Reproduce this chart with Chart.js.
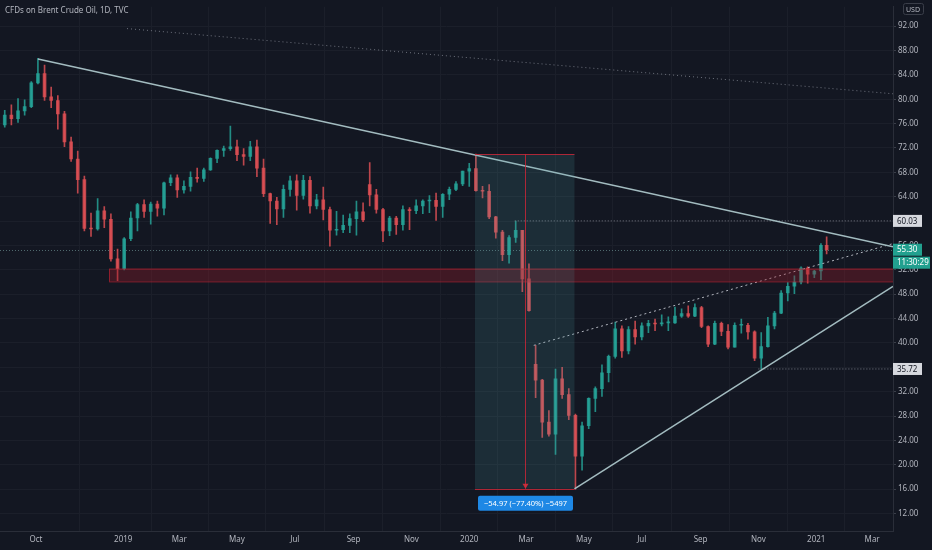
<!DOCTYPE html>
<html>
<head>
<meta charset="utf-8">
<script src="https://cdn.jsdelivr.net/npm/chart.js@4.4.1/dist/chart.umd.min.js"></script>
<style>
html, body { margin: 0; padding: 0; background: #131722; }
#wrap { width: 932px; height: 550px; }
</style>
</head>
<body>
<div id="wrap"><canvas id="brentChart" width="932" height="550"></canvas></div>
<script>
const weeks = [
  '2018-08-27','2018-09-03','2018-09-10','2018-09-17','2018-09-24','2018-10-01','2018-10-08','2018-10-15','2018-10-22','2018-10-29',
  '2018-11-05','2018-11-12','2018-11-19','2018-11-26','2018-12-03','2018-12-10','2018-12-17','2018-12-24','2018-12-31','2019-01-07',
  '2019-01-14','2019-01-21','2019-01-28','2019-02-04','2019-02-11','2019-02-18','2019-02-25','2019-03-04','2019-03-11','2019-03-18',
  '2019-03-25','2019-04-01','2019-04-08','2019-04-15','2019-04-22','2019-04-29','2019-05-06','2019-05-13','2019-05-20','2019-05-27',
  '2019-06-03','2019-06-10','2019-06-17','2019-06-24','2019-07-01','2019-07-08','2019-07-15','2019-07-22','2019-07-29','2019-08-05',
  '2019-08-12','2019-08-19','2019-08-26','2019-09-02','2019-09-09','2019-09-16','2019-09-23','2019-09-30','2019-10-07','2019-10-14',
  '2019-10-21','2019-10-28','2019-11-04','2019-11-11','2019-11-18','2019-11-25','2019-12-02','2019-12-09','2019-12-16','2019-12-23',
  '2019-12-30','2020-01-06','2020-01-13','2020-01-20','2020-01-27','2020-02-03','2020-02-10','2020-02-17','2020-02-24','2020-03-02',
  '2020-03-09','2020-03-16','2020-03-23','2020-03-30','2020-04-06','2020-04-13','2020-04-20','2020-04-27','2020-05-04','2020-05-11',
  '2020-05-18','2020-05-25','2020-06-01','2020-06-08','2020-06-15','2020-06-22','2020-06-29','2020-07-06','2020-07-13','2020-07-20',
  '2020-07-27','2020-08-03','2020-08-10','2020-08-17','2020-08-24','2020-08-31','2020-09-07','2020-09-14','2020-09-21','2020-09-28',
  '2020-10-05','2020-10-12','2020-10-19','2020-10-26','2020-11-02','2020-11-09','2020-11-16','2020-11-23','2020-11-30','2020-12-07',
  '2020-12-14','2020-12-21','2020-12-28','2021-01-04','2021-01-11'
];
const opens = [
  75.8,77.4,76.8,78.1,78.8,82.7,84.2,80.4,79.8,77.6, 73.0,70.2,66.8,58.8,58.7,61.7,60.3,53.8,52.2,57.1,
  60.5,62.7,61.6,62.8,62.1,66.3,67.1,65.1,65.7,67.2, 67.0,68.4,70.3,71.6,71.9,72.2,70.9,70.6,72.2,68.7,
  64.5,63.3,62.0,65.2,66.6,64.2,66.7,62.5,63.5,61.9, 58.5,58.6,59.3,60.4,61.5,66.0,64.3,61.9,58.4,60.5,
  59.4,61.9,61.7,62.5,63.3,63.4,62.4,64.4,65.2,66.1, 68.2,68.6,65.0,64.9,60.7,58.2,54.5,57.3,58.5,50.5,
  36.5,33.9,27.0,25.0,34.1,31.5,28.1,21.4,26.4,30.9, 32.5,35.1,37.8,42.3,38.7,42.2,41.0,42.8,43.2,43.1,
  43.3,43.3,44.4,44.8,44.4,45.8,42.7,39.8,43.2,41.9, 39.3,42.9,42.9,41.8,37.5,39.4,42.8,44.9,48.2,49.3,
  50.0,52.3,51.3,51.8,56.0
];
const highs = [
  78.2,79.1,80.1,79.9,82.9,86.7,85.6,82.0,80.6,78.0, 73.8,71.5,67.4,61.3,63.7,62.4,61.2,55.4,57.3,61.5,
  62.9,63.5,63.1,63.3,66.4,67.6,67.6,66.6,68.1,68.7, 68.7,70.4,71.7,72.3,75.6,73.3,71.9,73.1,73.3,70.2,
  64.6,63.9,65.9,67.4,67.6,67.5,67.3,64.4,65.6,62.3, 61.6,61.0,61.2,63.3,63.0,69.6,65.2,62.1,60.8,60.8,
  62.5,62.2,63.5,63.5,64.2,64.6,64.5,65.6,66.5,68.2, 69.5,71.0,65.7,66.0,60.8,58.5,57.6,60.0,58.5,53.0,
  39.6,34.0,28.9,35.7,36.0,32.5,28.3,27.0,31.0,32.8, 36.4,38.0,43.4,42.8,42.7,43.6,43.3,43.7,43.9,44.6,
  44.3,45.9,45.6,46.1,46.4,46.0,42.8,43.6,43.4,43.0, 43.3,43.9,43.2,42.0,41.7,44.2,45.2,48.6,49.9,51.0,
  52.5,52.5,51.9,56.3,57.4
];
const lows = [
  75.4,75.8,76.2,77.4,78.6,82.5,79.8,78.6,75.1,72.2, 69.8,64.6,58.4,57.5,58.5,58.9,53.4,50.2,52.0,56.8,
  58.4,60.6,59.5,60.8,61.0,65.8,63.9,64.6,64.9,66.4, 66.5,68.3,69.6,70.6,71.6,69.9,69.2,69.9,67.3,64.0,
  59.6,59.4,60.6,64.1,61.8,63.6,61.3,62.0,60.2,55.9, 57.7,58.1,58.1,57.7,59.9,62.5,61.3,56.6,57.6,57.8,
  58.5,58.6,61.2,61.2,61.4,60.1,60.6,63.5,65.0,65.8, 65.7,64.9,63.8,60.4,57.2,53.5,53.1,56.5,48.4,45.2,
  31.0,24.5,24.7,21.7,30.9,27.4,16.0,19.1,25.9,28.7, 31.2,33.6,37.5,37.6,38.2,39.8,40.5,41.7,42.0,42.8,
  42.0,43.2,44.2,44.2,44.3,42.5,39.4,39.7,41.2,39.0, 39.3,41.6,40.6,37.1,35.7,39.3,42.3,44.8,46.9,48.1,
  49.7,49.8,50.7,50.4,54.6
];
const closes = [
  77.4,76.8,78.1,78.8,82.7,84.2,80.4,79.8,77.6,73.0, 70.2,66.8,58.8,58.7,61.7,60.3,53.8,52.2,57.1,60.5,
  62.7,61.6,62.8,62.1,66.3,67.1,65.1,65.7,67.2,67.0, 68.4,70.3,71.6,71.9,72.2,70.9,70.6,72.2,68.7,64.5,
  63.3,62.0,65.2,66.6,64.2,66.7,62.5,63.5,61.9,58.5, 58.6,59.3,60.4,61.5,60.2,64.3,61.9,58.4,60.5,59.4,
  61.9,61.7,62.5,63.3,63.4,62.4,64.4,65.2,66.1,68.2, 68.6,65.0,64.9,60.7,58.2,54.5,57.3,58.5,50.5,45.3,
  33.9,27.0,25.0,34.1,31.5,28.1,21.4,26.4,30.9,32.5, 35.1,37.8,42.3,38.7,42.2,41.0,42.8,43.2,43.1,43.3,
  43.3,44.4,44.8,44.4,45.8,42.7,39.8,43.2,41.9,39.3, 42.9,42.9,41.8,37.5,39.4,42.8,44.9,48.2,49.3,50.0,
  52.3,51.3,51.8,56.0,55.3
];

// axis ticks
const monthTicks = ['2018-10-01','2019-01-01','2019-03-01','2019-05-01','2019-07-01','2019-09-01','2019-11-01',
  '2020-01-01','2020-03-01','2020-05-01','2020-07-01','2020-09-01','2020-11-01','2021-01-01','2021-03-01'];
const monthLabels = ['Oct','2019','Mar','May','Jul','Sep','Nov','2020','Mar','May','Jul','Sep','Nov','2021','Mar'];
const priceTicks = [12,16,20,24,28,32,36,40,44,48,52,56,60,64,68,72,76,80,84,88,92];
const viewFrom = '2018-08-24', viewTo = '2021-03-23';
const priceMin = 9.12, priceMax = 95.18;

// drawings on the chart (date, price)
const resistance = [['2018-10-03', 86.6], ['2021-03-23', 55.8]];
const support = [['2020-04-21', 16.05], ['2021-03-23', 49.3]];
const channelTop = [['2020-03-09', 39.6], ['2021-03-23', 56.3]];
const longTrend = [['2019-01-05', 91.6], ['2021-03-23', 80.9]];
const levels = [['2020-02-18', 60.03], ['2020-11-01', 35.72]];
const zoneFrom = '2018-12-17', zoneLow = 50.1, zoneHigh = 52.2;
const rangeFrom = '2020-01-07', rangeTo = '2020-04-21', rangeHigh = 71.02, rangeLow = 16.05;
const rangeText = '\u221254.97 (\u221277.40%) \u22125497';
const countdown = '11:30:29';
const title = 'CFDs on Brent Crude Oil, 1D, TVC';

const DAY0 = Date.UTC(2019, 0, 1);
function toDay(s) {
  const [y, m, d] = s.split('-').map(Number);
  return (Date.UTC(y, m - 1, d) - DAY0) / 86400000;
}

const UP = 'rgba(38,166,154,0.82)', DOWN = 'rgba(226,80,86,0.82)';
const last = weeks.length - 1;
const centers = weeks.map((w, i) => toDay(w) + (i === last ? 1 : 2));
const candleColors = closes.map((c, i) => c >= opens[i] ? UP : DOWN);
const lastClose = closes[last];

const seg = (pts) => pts.map(p => ({ x: toDay(p[0]), y: p[1] }));
const lineSet = (pts, color, dash, width) => ({
  type: 'line', data: seg(pts), borderColor: color, borderWidth: width || 1,
  borderDash: dash || [], pointRadius: 0, fill: false, order: 0
});

Chart.defaults.font.family = "'Noto Sans', sans-serif";
Chart.defaults.color = '#b2b5be';

const drawings = {
  id: 'drawings',
  beforeDatasetsDraw(chart) {
    const { ctx, chartArea: a, scales: { y } } = chart;
    ctx.save();
    // last price line
    const py = Math.round(y.getPixelForValue(lastClose)) + 0.5;
    ctx.strokeStyle = 'rgba(120,160,160,0.6)';
    ctx.setLineDash([1, 2]);
    ctx.lineWidth = 1;
    ctx.beginPath(); ctx.moveTo(a.left, py); ctx.lineTo(a.right, py); ctx.stroke();
    ctx.restore();
  },
  afterDatasetsDraw(chart) {
    const { ctx, chartArea: a, scales: { x, y } } = chart;
    ctx.save();
    ctx.beginPath(); ctx.rect(a.left, a.top, a.width, a.height); ctx.clip();

    // support/resistance zone
    const zx = x.getPixelForValue(toDay(zoneFrom));
    const zt = y.getPixelForValue(zoneHigh), zb = y.getPixelForValue(zoneLow);
    ctx.fillStyle = 'rgba(150,25,40,0.35)';
    ctx.fillRect(zx, zt, a.right - zx, zb - zt);
    ctx.strokeStyle = 'rgba(190,35,50,0.65)';
    ctx.lineWidth = 1;
    ctx.strokeRect(zx + 0.5, zt + 0.5, a.right - zx, zb - zt);

    // price range measurement
    const bx0 = x.getPixelForValue(toDay(rangeFrom)), bx1 = x.getPixelForValue(toDay(rangeTo));
    const bt = y.getPixelForValue(rangeHigh), bb = y.getPixelForValue(rangeLow);
    ctx.fillStyle = 'rgba(80,160,165,0.16)';
    ctx.fillRect(bx0, bt, bx1 - bx0, bb - bt);
    ctx.strokeStyle = 'rgba(200,40,55,0.85)';
    ctx.beginPath();
    ctx.moveTo(bx0, Math.round(bt) + 0.5); ctx.lineTo(bx1, Math.round(bt) + 0.5);
    ctx.moveTo(bx0, Math.round(bb) + 0.5); ctx.lineTo(bx1, Math.round(bb) + 0.5);
    const mx = Math.round((bx0 + bx1) / 2) + 0.5;
    ctx.moveTo(mx, bt); ctx.lineTo(mx, bb);
    ctx.stroke();
    ctx.fillStyle = 'rgba(210,45,60,0.95)';
    ctx.beginPath();
    ctx.moveTo(mx - 3, bb - 5); ctx.lineTo(mx + 3, bb - 5); ctx.lineTo(mx, bb); ctx.closePath();
    ctx.fill();
    ctx.restore();

    // range label
    ctx.save();
    ctx.font = "7.5px 'Noto Sans', sans-serif";
    const tw = ctx.measureText(rangeText).width;
    const lw = tw + 12, lh = 15, lx = mx - lw / 2, ly = bb + 7;
    ctx.fillStyle = '#1e88e5';
    ctx.beginPath(); ctx.roundRect(lx, ly, lw, lh, 2); ctx.fill();
    ctx.fillStyle = '#ffffff';
    ctx.textBaseline = 'middle'; ctx.textAlign = 'center';
    ctx.fillText(rangeText, mx, ly + lh / 2 + 0.5);
    ctx.restore();
  },
  afterDraw(chart) {
    const { ctx, chartArea: a, scales: { y } } = chart;
    ctx.save();
    ctx.textBaseline = 'middle';

    // title
    ctx.font = "8px 'Noto Sans', sans-serif";
    ctx.fillStyle = '#b2b5be';
    ctx.fillText(title, 5, 11);

    // currency tag
    ctx.strokeStyle = '#3a3e49';
    ctx.beginPath(); ctx.roundRect(a.right + 10.5, 3.5, 20, 11, 2); ctx.stroke();
    ctx.font = "7px 'Noto Sans', sans-serif";
    ctx.fillStyle = '#b2b5be';
    ctx.fillText('USD', a.right + 13, 9.5);

    const tag = (price, text, bg, fg, w, dy) => {
      const py = y.getPixelForValue(price) + (dy || 0);
      ctx.fillStyle = bg;
      ctx.fillRect(a.right, py - 6, w, 12);
      ctx.fillStyle = fg;
      ctx.font = "8px 'Noto Sans', sans-serif";
      ctx.fillText(text, a.right + 4, py + 0.5);
    };
    levels.forEach(l => tag(l[1], l[1].toFixed(2), '#d6d8de', '#131722', 29));
    tag(lastClose, lastClose.toFixed(2), '#22a08f', '#ffffff', 29);
    tag(lastClose, countdown, '#22a08f', '#ffffff', 37, 13);
    ctx.restore();
  }
};

new Chart(document.getElementById('brentChart'), {
  type: 'bar',
  data: {
    datasets: [
      lineSet(resistance, '#a3bcc0', [], 1.5),
      lineSet(support, '#a3bcc0', [], 1.5),
      lineSet(channelTop, '#b2b5be', [2, 3], 1),
      lineSet(longTrend, '#6e727d', [1, 3], 1),
      ...levels.map(l => lineSet([[l[0], l[1]], [viewTo, l[1]]], '#787b86', [1, 2], 1)),
      {
        type: 'bar', order: 1, grouped: false, barThickness: 3, minBarLength: 1,
        data: centers.map((c, i) => ({ x: c, y: [opens[i], closes[i]] })),
        backgroundColor: candleColors
      },
      {
        type: 'bar', order: 2, grouped: false, barThickness: 1,
        data: centers.map((c, i) => ({ x: c, y: [lows[i], highs[i]] })),
        backgroundColor: candleColors
      }
    ]
  },
  options: {
    responsive: false,
    animation: false,
    layout: { padding: 0 },
    plugins: { legend: { display: false }, tooltip: { enabled: false } },
    scales: {
      x: {
        type: 'linear', min: toDay(viewFrom), max: toDay(viewTo), offset: false,
        afterBuildTicks: s => { s.ticks = monthTicks.map(d => ({ value: toDay(d) })); },
        afterFit: s => { s.height = 19; },
        ticks: {
          callback: (v, i) => monthLabels[i], autoSkip: false, maxRotation: 0,
          font: { size: 8 }, color: '#b2b5be', padding: 4
        },
        grid: { color: '#1b1f2a', drawTicks: false },
        border: { color: '#2a2e39' }
      },
      y: {
        position: 'right', min: priceMin, max: priceMax,
        afterBuildTicks: s => { s.ticks = priceTicks.map(v => ({ value: v })); },
        afterFit: s => { s.width = 39; },
        ticks: { callback: v => v.toFixed(2), font: { size: 8 }, color: '#b2b5be', padding: 2 },
        grid: { color: '#1b1f2a', tickColor: '#3a3e49', tickLength: 3 },
        border: { color: '#2a2e39' }
      }
    }
  },
  plugins: [drawings]
});
</script>
</body>
</html>
